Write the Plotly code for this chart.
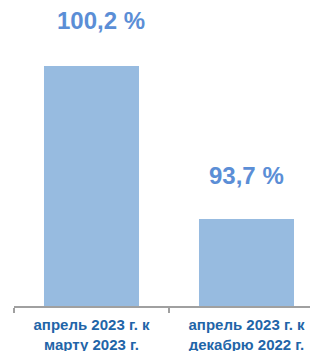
import plotly.graph_objects as go

categories = ["апрель 2023 г. к<br>марту 2023 г.", "апрель 2023 г. к<br>декабрю 2022 г."]
values = [100.2, 93.7]
value_labels = ["100,2 %", "93,7 %"]

BAR = "#97BBE0"
LBL = "#5B8ED6"
TICK = "#1F65A8"
AX = "#A0A0A0"

fig = go.Figure()
fig.add_trace(go.Bar(x=categories, y=values, marker=dict(color=BAR, line=dict(width=0)),
                     hoverinfo="skip"))

label_xshift = [9, 0]
label_yshift = [45, 43]
for c, v, t, xs, ys in zip(categories, values, value_labels, label_xshift, label_yshift):
    fig.add_annotation(x=c, y=v, text="<b>" + t + "</b>", showarrow=False, xanchor="center",
                       yanchor="middle", xshift=xs, yshift=ys,
                       font=dict(family="Arial, Liberation Sans", size=24, color=LBL))

fig.update_layout(
    template="none",
    width=310, height=351,
    margin=dict(l=14, r=0, t=0, b=45, autoexpand=False),
    paper_bgcolor="white", plot_bgcolor="white",
    bargap=0.387, showlegend=False,
    xaxis=dict(type="category", range=[-0.5, 1.4097], showline=True, linecolor=AX, linewidth=2,
               ticks="outside", tickson="boundaries", ticklen=5, tickcolor=AX, tickwidth=2,
               ticklabelstandoff=4,
               showgrid=False, zeroline=False, automargin=False,
               tickvals=categories, ticktext=["<b>" + c + "</b>" for c in categories],
               tickfont=dict(family="Arial, Liberation Sans", size=15, color=TICK)),
    yaxis=dict(range=[90, 103.0], visible=False, showgrid=False, zeroline=False, automargin=False),
)
fig.write_html("out.html", config={"displayModeBar": False},
               post_script="document.body.style.margin='0';document.body.style.overflow='hidden';")
